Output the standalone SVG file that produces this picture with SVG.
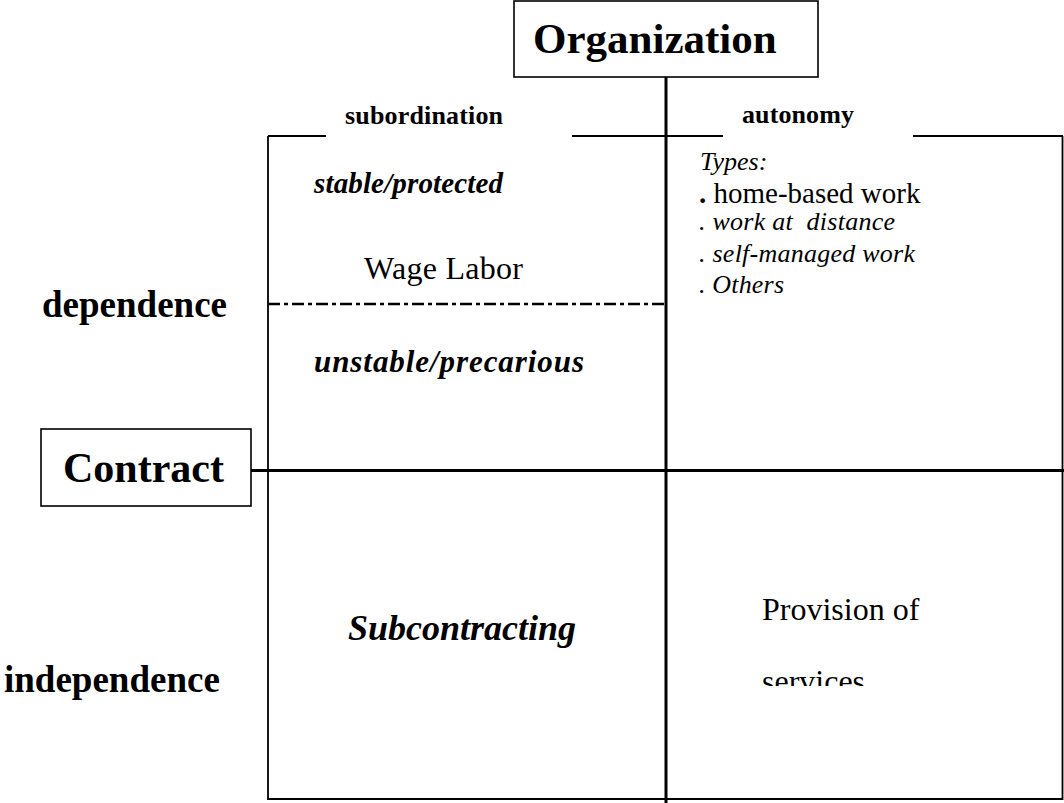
<svg xmlns="http://www.w3.org/2000/svg" width="1064" height="803" viewBox="0 0 1064 803">
<style>
text{font-family:"Liberation Serif","Times New Roman",serif;fill:#000;white-space:pre}
.b{font-weight:bold}
.i{font-style:italic}
.box{fill:#fff;stroke:#000;stroke-width:1.6}
.thin{stroke:#000;stroke-width:1.8;fill:none}
.thick{stroke:#000;stroke-width:3;fill:none}
</style>
<defs>
<clipPath id="clipSvc"><rect x="700" y="600" width="300" height="86"/></clipPath>
</defs>
<rect width="1064" height="803" fill="#fff"/>
<g id="connectors">
<path class="thin" d="M268,136H326M572,136H723M913,136H1063M268,136V799H1062.5V136"/>
<path class="thick" d="M666,77V803"/>
<path class="thick" d="M251,470.5H1064"/>
<path d="M268,304H666" stroke="#000" stroke-width="2.5" stroke-dasharray="12 4 4 4"/>
</g>
<g id="organization">
<rect class="box" x="514" y="1" width="304" height="76"/>
<text class="b" x="533" y="53" font-size="43">Organization</text>
</g>
<g id="contract">
<rect class="box" x="41" y="429" width="210" height="77"/>
<text class="b" x="63" y="482" font-size="42">Contract</text>
</g>
<g id="axis-labels">
<text class="b" x="345" y="124" font-size="26" textLength="158">subordination</text>
<text class="b" x="742" y="123" font-size="26" textLength="112">autonomy</text>
<text class="b" x="42" y="317" font-size="37">dependence</text>
<text class="b" x="4" y="692" font-size="37">independence</text>
</g>
<g id="wage-labor">
<text class="b i" x="314" y="193" font-size="29" textLength="189">stable/protected</text>
<text x="364" y="279" font-size="32" textLength="159">Wage Labor</text>
<text class="b i" x="314" y="372" font-size="31" textLength="270">unstable/precarious</text>
</g>
<g id="autonomy-types">
<text class="i" x="700" y="170" font-size="26">Types:</text>
<text x="699" y="203" font-size="29"><tspan class="b">.</tspan> home-based work</text>
<text class="i" x="699" y="230" font-size="26" textLength="196">. work at  distance</text>
<text class="i" x="699" y="262" font-size="26" textLength="216">. self-managed work</text>
<text class="i" x="699" y="293" font-size="26" textLength="85">. Others</text>
</g>
<g id="subcontracting">
<text class="b i" x="348" y="640" font-size="36">Subcontracting</text>
</g>
<g id="provision">
<text x="762" y="620" font-size="32">Provision of</text>
<text x="762" y="692" font-size="32" clip-path="url(#clipSvc)">services</text>
</g>
</svg>
